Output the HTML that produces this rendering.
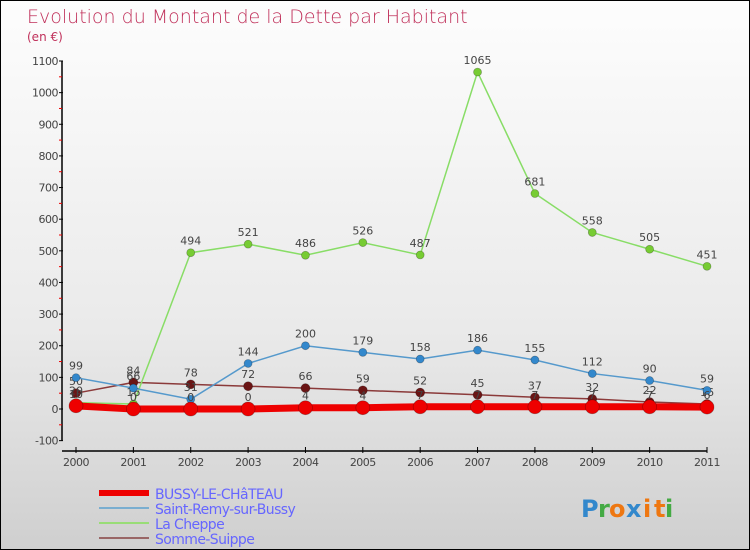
<!DOCTYPE html>
<html><head><meta charset="utf-8"><style>
html,body{margin:0;padding:0}
#wrap{position:relative;width:748px;height:548px;border:1px solid #000;background:linear-gradient(#fdfdfd,#eaeaea 60%,#cfcfcf);font-family:"DejaVu Sans","Liberation Sans",sans-serif;overflow:hidden}
svg{position:absolute;left:0;top:0}
</style></head><body>
<div id="wrap">
<svg id="chart" width="750" height="550"></svg>
</div>
<script>
const years=["2000","2001","2002","2003","2004","2005","2006","2007","2008","2009","2010","2011"];
const yTicks=[-100,0,100,200,300,400,500,600,700,800,900,1000,1100];
const bussy=[10,0,0,0,4,4,7,7,7,7,7,6];
const remy=[99,66,31,144,200,179,158,186,155,112,90,59];
const cheppe=[20,16,494,521,486,526,487,1065,681,558,505,451];
const somme=[50,84,78,72,66,59,52,45,37,32,22,16];
const NS="http://www.w3.org/2000/svg";
const svg=document.getElementById('chart');
const X=i=>75+i*(706-75)/11;
const Y=v=>408-v*(408-60)/1100;
function mk(t,a,txt){const e=document.createElementNS(NS,t);for(const k in a)e.setAttribute(k,a[k]);if(txt!==undefined)e.textContent=txt;svg.appendChild(e);return e;}
let e;
e=mk('text',{x:26,y:22,'font-size':19,fill:'#c0305a','font-family':'DejaVu Sans, sans-serif','font-weight':'200'},'Evolution du Montant de la Dette par Habitant');


e=mk('text',{x:26,y:40,'font-size':12,fill:'#c0305a'},'(en €)');


e=mk('line',{x1:61,y1:Y(1100),x2:61,y2:Y(-100),stroke:'#000','stroke-width':1.5});


e=mk('line',{x1:61,y1:450,x2:706,y2:450,stroke:'#000','stroke-width':1.5});


yTicks.forEach((v,i)=>{
 mk('line',{x1:58,y1:Y(v),x2:62,y2:Y(v),stroke:'#000'});
 if(i<yTicks.length-1) mk('line',{x1:58,y1:Y(v+50),x2:61,y2:Y(v+50),stroke:'#e00'});
 e=mk('text',{x:57,y:Y(v)+4,'font-size':11,fill:'#444','text-anchor':'end','letter-spacing':'-0.5'},String(v));
 
 
});
years.forEach((y,i)=>{
 mk('line',{x1:X(i),y1:446,x2:X(i),y2:452,stroke:'#000'});
 e=mk('text',{x:X(i),y:465,'font-size':11,fill:'#444','text-anchor':'middle','letter-spacing':'-0.5'},y);
 
 
});
function series(vals,color,dot,w,r,name,lbl){
 e=mk('polyline',{points:vals.map((v,i)=>X(i)+','+Y(v)).join(' '),fill:'none',stroke:color,'stroke-width':w});
 
 
 vals.forEach((v,i)=>{
  e=mk('circle',{cx:X(i),cy:Y(v),r:r,fill:dot,stroke:'rgba(0,0,0,0.3)','stroke-width':0.7});
  
  
  if(lbl){e=mk('text',{x:X(i),y:Y(v)-8,'font-size':11,fill:'#444','text-anchor':'middle'},String(v));
  
  }
 });
}
series(somme,'#8b3a3a','#6b1515',1.5,4.5,'somme-suippe',true);
series(cheppe,'#88dd66','#77cc33',1.5,4,'la-cheppe',true);
series(remy,'#5599cc','#3388cc',1.5,4,'saint-remy',true);
series(bussy,'#ee0000','#ee0000',7,7,'bussy',true);
const leg=[['BUSSY-LE-CHâTEAU','#ee0000',6],['Saint-Remy-sur-Bussy','#7aaed0',2],['La Cheppe','#99dd77',2],['Somme-Suippe','#996666',2]];
leg.forEach((l,i)=>{
 const yy=492+i*15;
 e=mk('line',{x1:98,y1:yy,x2:148,y2:yy,stroke:l[1],'stroke-width':l[2]});
 
 
 e=mk('text',{x:154,y:yy+6,'font-size':14,fill:'#6666ff','letter-spacing':'-0.6'},l[0]);
 
 
});
const logo=[['P','#3388cc'],['r','#44aa44'],['o','#ee7711'],['x','#3388cc'],['i','#ee7711'],['t','#ee7711'],['i','#44aa44']];
let lx=580;
logo.forEach(c=>{
 e=mk('text',{x:lx,y:516,'font-size':24,fill:c[1],'font-weight':'bold','font-family':'DejaVu Sans, sans-serif'},c[0]);
 
 
 lx+= (c[0]==='i'||c[0]==='t'||c[0]==='r')?11:17;
});
</script>
</body></html>
